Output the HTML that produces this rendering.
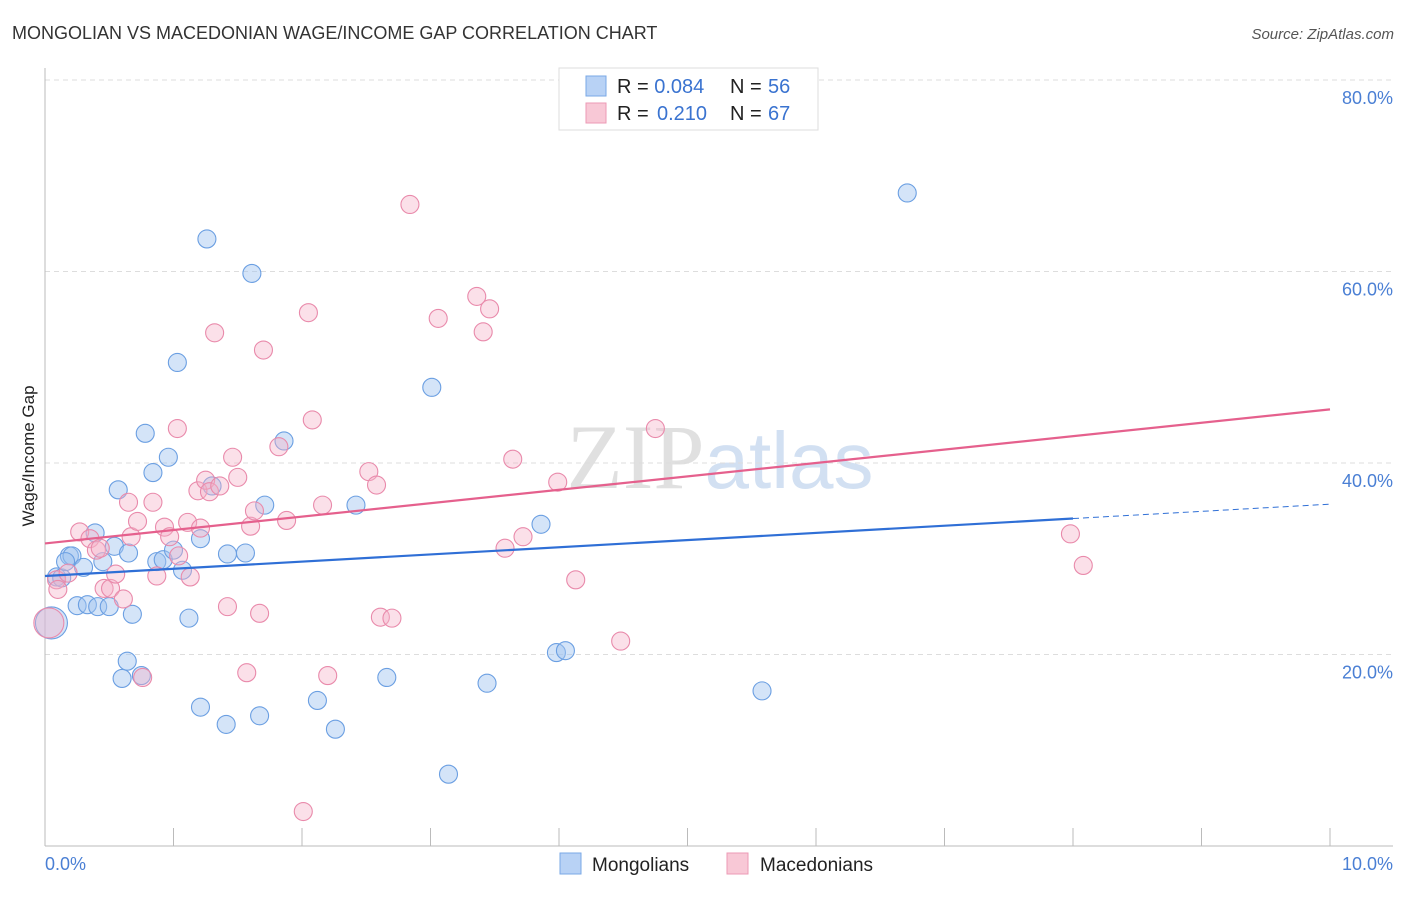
<!DOCTYPE html>
<html><head><meta charset="utf-8"><style>
body{margin:0;background:#fff;font-family:"Liberation Sans",sans-serif;}
</style></head><body>
<svg width="1406" height="892" xmlns="http://www.w3.org/2000/svg" id="chart">
<text x="12" y="39" font-size="18" fill="#333">MONGOLIAN VS MACEDONIAN WAGE/INCOME GAP CORRELATION CHART</text>
<text x="1394" y="39" font-size="15" fill="#555" font-style="italic" text-anchor="end">Source: ZipAtlas.com</text>
<text x="720" y="488" font-size="92" fill="#e0e0e0" text-anchor="middle" font-family="Liberation Serif,serif">ZIP<tspan fill="#d2e0f2" font-family="Liberation Sans,sans-serif" font-size="80">atlas</tspan></text>
<g id="grid"></g>
<line x1="45" y1="68" x2="45" y2="846" stroke="#bbb"/>
<line x1="45" y1="846" x2="1393" y2="846" stroke="#bbb"/>
<text transform="translate(34,456) rotate(-90)" font-size="17" fill="#222" text-anchor="middle">Wage/Income Gap</text>
<text x="45" y="870" font-size="18" fill="#4a7fd4">0.0%</text>
<text x="1393" y="870" font-size="18" fill="#4a7fd4" text-anchor="end">10.0%</text>
<g id="pts"></g>
<g id="lines"></g>
<g>
<rect x="559" y="68" width="259" height="62" fill="#fff" stroke="#ddd"/>
<rect x="586" y="76" width="20" height="20" fill="#b8d2f5" stroke="#7aa8e6"/>
<rect x="586" y="103" width="20" height="20" fill="#f8c8d6" stroke="#ec9ab5"/>
<text x="617" y="93" font-size="20" fill="#222">R = <tspan fill="#3a73d0">0.084</tspan><tspan x="730">N = </tspan><tspan x="768" fill="#3a73d0">56</tspan></text>
<text x="617" y="120" font-size="20" fill="#222">R = <tspan x="657" fill="#3a73d0">0.210</tspan><tspan x="730">N = </tspan><tspan x="768" fill="#3a73d0">67</tspan></text>
</g>
<g>
<rect x="560" y="853" width="21" height="21" fill="#b8d2f5" stroke="#7aa8e6"/>
<text x="592" y="871" font-size="19" fill="#222">Mongolians</text>
<rect x="727" y="853" width="21" height="21" fill="#f8c8d6" stroke="#ec9ab5"/>
<text x="760" y="871" font-size="19" fill="#222">Macedonians</text>
</g>
</svg>
<script>
const yTicks=[20,40,60,80];
const xTicks=[0,1,2,3,4,5,6,7,8,9,10];
const blueX=[0.09,0.13,0.19,0.21,0.16,0.30,0.39,0.45,0.54,0.57,0.65,0.25,0.33,0.41,0.50,0.68,0.64,0.60,0.75,0.78,0.84,0.96,1.03,1.26,1.61,0.87,0.92,1.00,1.07,1.12,1.21,1.30,1.42,1.56,1.71,1.86,1.21,1.41,1.67,2.12,2.26,2.42,2.66,3.01,3.14,3.44,3.86,3.98,4.05,5.58,6.71,0.05];
const blueY=[28.1,28.0,30.3,30.3,29.7,29.1,32.7,29.7,31.3,37.2,30.6,25.1,25.2,25.0,25.0,24.2,19.3,17.5,17.8,43.1,39.0,40.6,50.5,63.4,59.8,29.7,29.9,30.9,28.8,23.8,32.1,37.6,30.5,30.6,35.6,42.3,14.5,12.7,13.6,15.2,12.2,35.6,17.6,47.9,7.5,17.0,33.6,20.2,20.4,16.2,68.2,23.3];
const blueR=[9,9,9,9,9,9,9,9,9,9,9,9,9,9,9,9,9,9,9,9,9,9,9,9,9,9,9,9,9,9,9,9,9,9,9,9,9,9,9,9,9,9,9,9,9,9,9,9,9,9,9,16];
const pinkX=[0.09,0.10,0.18,0.27,0.35,0.40,0.43,0.46,0.51,0.55,0.61,0.65,0.67,0.72,0.76,0.84,0.87,0.93,0.97,1.03,1.04,1.11,1.13,1.19,1.21,1.25,1.28,1.32,1.36,1.42,1.46,1.50,1.57,1.60,1.63,1.67,1.70,1.82,1.88,2.05,2.08,2.01,2.16,2.20,2.52,2.58,2.61,2.70,2.84,3.06,3.36,3.41,3.46,3.58,3.64,3.72,3.99,4.13,4.48,4.75,7.98,8.08,0.03];
const pinkY=[27.8,26.8,28.5,32.8,32.1,30.9,31.1,26.9,26.9,28.4,25.8,35.9,32.3,33.9,17.6,35.9,28.2,33.3,32.3,43.6,30.3,33.8,28.1,37.1,33.2,38.2,37.0,53.6,37.6,25.0,40.6,38.5,18.1,33.4,35.0,24.3,51.8,41.7,34.0,55.7,44.5,3.6,35.6,17.8,39.1,37.7,23.9,23.8,67.0,55.1,57.4,53.7,56.1,31.1,40.4,32.3,38.0,27.8,21.4,43.6,32.6,29.3,23.3];
const blueTrend=[28.2,35.7];
const pinkTrend=[31.6,45.6];
const NS="http://www.w3.org/2000/svg";
const X=v=>45+v*128.5, Y=v=>846-v*9.575;
function mk(t,a,p){const e=document.createElementNS(NS,t);for(const k in a)e.setAttribute(k,a[k]);p.appendChild(e);return e;}
const grid=document.getElementById('grid');
yTicks.forEach(t=>{
 const l=mk('line',{x1:45,x2:1393,y1:Y(t),y2:Y(t),stroke:'#ddd','stroke-dasharray':'5,4'},grid);
 
 
 const tx=mk('text',{x:1393,y:Y(t)+24,'font-size':18,fill:'#4a7fd4','text-anchor':'end'},grid);
 tx.textContent=t.toFixed(1)+'%';
 
 
});
xTicks.forEach(t=>{
 const l=mk('line',{x1:X(t),x2:X(t),y1:828,y2:846,stroke:'#bbb'},grid);
 
 
});
const pts=document.getElementById('pts');
blueX.forEach((x,i)=>{
 const c=mk('circle',{cx:X(x),cy:Y(blueY[i]),r:blueR[i],fill:'rgba(160,196,240,0.45)',stroke:'#6b9fe2','stroke-width':1.1},pts);
 
 
});
pinkX.forEach((x,i)=>{
 const c=mk('circle',{cx:X(x),cy:Y(pinkY[i]),r:i==pinkX.length-1?15:9,fill:'rgba(245,178,200,0.4)',stroke:'#e98aab','stroke-width':1.1},pts);
 
 
});
const lines=document.getElementById('lines');
const bt=x=>blueTrend[0]+(blueTrend[1]-blueTrend[0])*x/10;
const pt=x=>pinkTrend[0]+(pinkTrend[1]-pinkTrend[0])*x/10;
let l=mk('line',{x1:X(0),y1:Y(bt(0)),x2:X(8),y2:Y(bt(8)),stroke:'#2f6fd6','stroke-width':2.2},lines);


l=mk('line',{x1:X(8),y1:Y(bt(8)),x2:X(10),y2:Y(bt(10)),stroke:'#2f6fd6','stroke-width':1,'stroke-dasharray':'6,4'},lines);


l=mk('line',{x1:X(0),y1:Y(pt(0)),x2:X(10),y2:Y(pt(10)),stroke:'#e5608d','stroke-width':2.2},lines);


</script>
</body></html>
